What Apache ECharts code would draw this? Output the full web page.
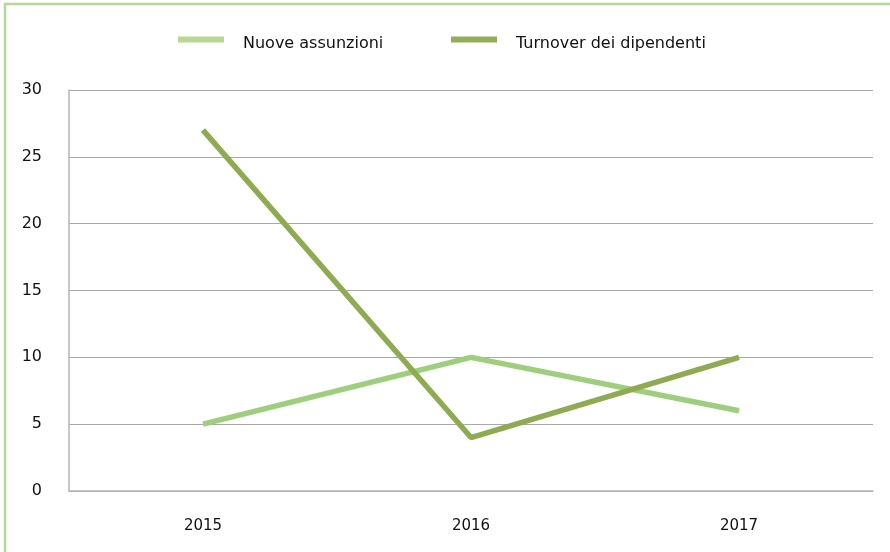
<!DOCTYPE html>
<html><head><meta charset="utf-8">
<script src="https://cdn.jsdelivr.net/npm/echarts@6/dist/echarts.min.js"></script>
<style>html,body{margin:0;padding:0;background:#fff}#c{width:890px;height:552px}</style>
</head><body><div id="c"></div>
<script>
const categories = ['2015', '2016', '2017'];
const nuoveAssunzioni = [5, 10, 6];
const turnover = [27, 4, 10];
const seriesNames = ['Nuove assunzioni', 'Turnover dei dipendenti'];

const chart = echarts.init(document.getElementById('c'), null, {renderer: 'canvas'});
const font = 'DejaVu Sans, Verdana, sans-serif';
const legendText = {
  fontFamily: font, fontSize: 16, color: '#111',
  rich: {a: {fontFamily: font, fontSize: 16, color: '#111', padding: [9, 0, 0, 14]}}
};
const legendFmt = n => '{a|' + n + '}';
chart.setOption({
  animation: false,
  color: ['#9fcf7e', '#8fab52'],
  graphic: [{
    type: 'rect', shape: {x: 5, y: 4, width: 900, height: 600},
    style: {fill: 'none', stroke: '#b5d797', lineWidth: 2.5}, silent: true
  }],
  legend: [{
    top: 31, left: 173,
    itemWidth: 46, itemHeight: 6, icon: 'rect',
    textStyle: legendText, formatter: legendFmt,
    data: [seriesNames[0]]
  }, {
    top: 31, left: 446,
    itemWidth: 46, itemHeight: 6, icon: 'rect',
    textStyle: legendText, formatter: legendFmt,
    data: [seriesNames[1]]
  }],
  grid: {left: 69, right: 17, top: 90, bottom: 61, containLabel: false},
  xAxis: {
    type: 'category', data: categories, boundaryGap: true,
    axisLine: {lineStyle: {color: '#b4b4b4', width: 1.5}},
    axisTick: {show: false},
    axisLabel: {fontFamily: font, fontSize: 15, color: '#111', margin: 28}
  },
  yAxis: {
    type: 'value', min: 0, max: 30, interval: 5,
    axisLine: {show: true, lineStyle: {color: '#b4b4b4', width: 1.5}},
    axisTick: {show: false},
    splitLine: {lineStyle: {color: '#a8a8a8', width: 1}},
    axisLabel: {fontFamily: font, fontSize: 16, color: '#111', margin: 27, padding: [3, 0, 0, 0]}
  },
  series: [
    {name: seriesNames[0], type: 'line', data: nuoveAssunzioni, showSymbol: false, symbol: 'none',
     lineStyle: {width: 5.5, color: '#9fcf7e'}, itemStyle: {color: '#b8d98f'}},
    {name: seriesNames[1], type: 'line', data: turnover, showSymbol: false, symbol: 'none',
     lineStyle: {width: 5.5, color: '#8fab52'}, itemStyle: {color: '#93ae58'}}
  ]
});
</script></body></html>
